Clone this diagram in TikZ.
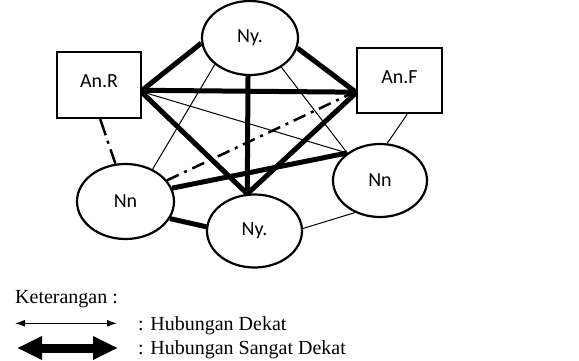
\documentclass[tikz,border=0pt]{standalone}
\usepackage{fontspec}
\setmainfont{Liberation Serif}
\newfontfamily\nodefont{Carlito}
\usetikzlibrary{shapes.geometric,arrows.meta}
\pgfdeclarelayer{edges}
\pgfsetlayers{edges,main}
\begin{document}
\begin{tikzpicture}[x=1pt,y=-1pt,
  ell/.style={draw,ellipse,line width=2.2pt,fill=white,inner sep=0pt,
    font=\nodefont\fontsize{20}{24}\selectfont},
  box/.style={draw,rectangle,line width=2.2pt,fill=white,inner sep=0pt,
    font=\nodefont\fontsize{20}{24}\selectfont},
  strong/.style={line width=5pt},
  weak/.style={line width=1pt},
  dashdotline/.style={line width=2.5pt,dash pattern=on 13pt off 6pt on 3pt off 6pt},
  legendtext/.style={font=\fontsize{20}{24}\selectfont,anchor=base west,inner sep=0pt},
  thinarrow/.style={line width=1.2pt,{Latex[length=10pt,width=7pt]}-{Latex[length=10pt,width=7pt]}},
  thickarrow/.style={line width=9pt,{Triangle[length=25pt,width=22pt]}-{Triangle[length=25pt,width=22pt]}}]

\useasboundingbox (0,0) rectangle (579,361);

% nodes
\node[ell,minimum width=96pt,minimum height=74pt] (NyT) at (250,38) {Ny.};
\node[box,minimum width=84pt,minimum height=66pt] (R) at (99,85) {\raisebox{8pt}{An.R}};
\node[box,minimum width=85pt,minimum height=65pt] (F) at (399.5,80.5) {\raisebox{7.5pt}{An.F}};
\node[ell,minimum width=97pt,minimum height=75pt] (NnL) at (125.5,201.5) {Nn};
\node[ell,minimum width=95pt,minimum height=73pt] (NyB) at (254.5,231) {Ny.};
\node[ell,minimum width=94pt,minimum height=73pt] (NnR) at (380,180.5) {Nn};

% connectors
\begin{pgfonlayer}{edges}
\draw[strong] (NyT.186) -- (R.-7);
\draw[strong] (NyT.348) -- (F.195);
\draw[strong] (R.-7) -- (F.195);
\draw[strong] (R.-10) -- (NyB.101);
\draw[strong] (NyT.267) -- (NyB.101);
\draw[strong] (F.196) -- (NyB.101);
\draw[strong] (NnL.16) -- (NnR.140.5);
\draw[strong] (NnL.339.5) -- (NyB.175.5);

\draw[weak] (NyT.217) -- (NnL.50.6);
\draw[weak] (NyT.317) -- (NnR.140.5);
\draw[weak] (R.-9) -- (NnR.140.5);
\draw[weak] (F.-77) -- (NnR.79.4);
\draw[weak] (NyB.3.5) -- (NnR.232.7);

\draw[dashdotline,dash pattern=on 17pt off 6pt on 3pt off 6pt] (R.-88.3) -- (NnL.105.3);
\draw[dashdotline] (NnL.27.4) -- (F.194);
\end{pgfonlayer}

% legend
\node[legendtext] (ket) at (15,303) {Keterangan :};
\coordinate (a1) at (15,323.3);
\coordinate (a2) at (117,323.3);
\draw[thinarrow] (a1) -- (a2);
\node[legendtext] (dekat) at (138,330) {: Hubungan Dekat};
\coordinate (b1) at (17,348);
\coordinate (b2) at (118,348);
\draw[thickarrow] (b1) -- (b2);
\node[legendtext] (sangat) at (138,354) {: Hubungan Sangat Dekat};
\end{tikzpicture}
\end{document}
